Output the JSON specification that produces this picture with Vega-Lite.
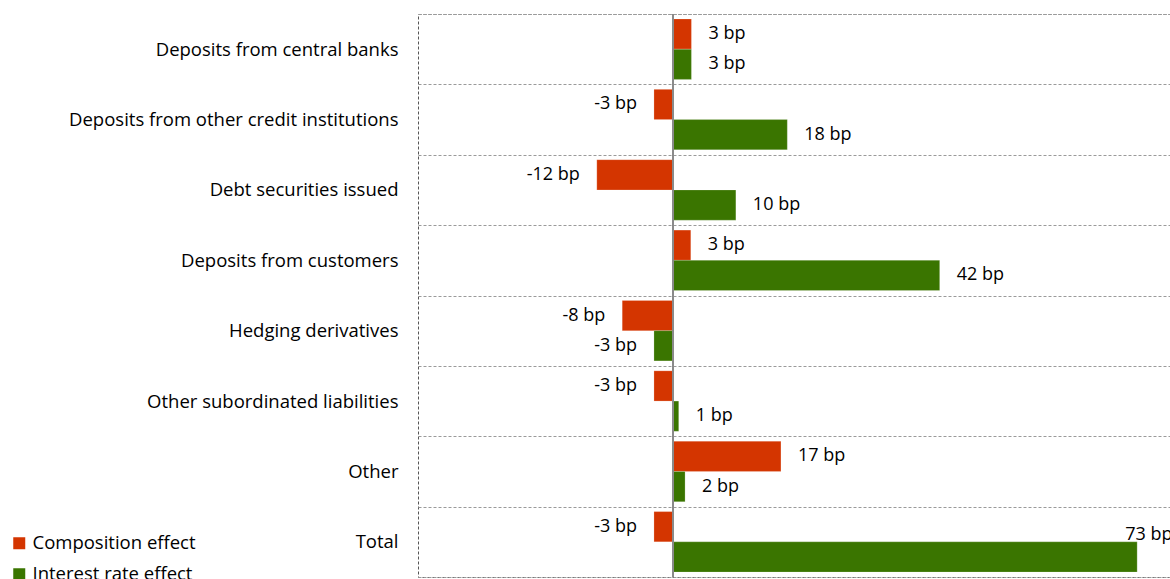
{
  "$schema": "https://vega.github.io/schema/vega-lite/v6.json",
  "autosize": "none",
  "padding": {"left": 418, "top": 14, "right": 0, "bottom": 2},
  "width": 752,
  "height": 563,
  "config": {
    "font": "Open Sans",
    "view": {"stroke": "#555555", "strokeDash": [3, 2], "strokeWidth": 1}
  },
  "data": {
    "values": [
      {"category": "Deposits from central banks", "series": "Composition effect", "value": 2.9, "label": "3 bp"},
      {"category": "Deposits from central banks", "series": "Interest rate effect", "value": 2.9, "label": "3 bp"},
      {"category": "Deposits from other credit institutions", "series": "Composition effect", "value": -3.0, "label": "-3 bp"},
      {"category": "Deposits from other credit institutions", "series": "Interest rate effect", "value": 18.0, "label": "18 bp"},
      {"category": "Debt securities issued", "series": "Composition effect", "value": -12.0, "label": "-12 bp"},
      {"category": "Debt securities issued", "series": "Interest rate effect", "value": 9.9, "label": "10 bp"},
      {"category": "Deposits from customers", "series": "Composition effect", "value": 2.8, "label": "3 bp"},
      {"category": "Deposits from customers", "series": "Interest rate effect", "value": 42.0, "label": "42 bp"},
      {"category": "Hedging derivatives", "series": "Composition effect", "value": -8.0, "label": "-8 bp"},
      {"category": "Hedging derivatives", "series": "Interest rate effect", "value": -3.0, "label": "-3 bp"},
      {"category": "Other subordinated liabilities", "series": "Composition effect", "value": -3.0, "label": "-3 bp"},
      {"category": "Other subordinated liabilities", "series": "Interest rate effect", "value": 0.9, "label": "1 bp"},
      {"category": "Other", "series": "Composition effect", "value": 17.0, "label": "17 bp"},
      {"category": "Other", "series": "Interest rate effect", "value": 1.9, "label": "2 bp"},
      {"category": "Total", "series": "Composition effect", "value": -3.0, "label": "-3 bp"},
      {"category": "Total", "series": "Interest rate effect", "value": 73.1, "label": "73 bp"}
    ]
  },
  "encoding": {
    "y": {
      "field": "category",
      "type": "nominal",
      "sort": null,
      "scale": {"paddingInner": 0, "paddingOuter": 0, "round": false},
      "axis": {
        "title": null,
        "domain": false,
        "ticks": false,
        "tickBand": "extent",
        "grid": true,
        "gridColor": "#9a9a9a",
        "gridDash": [3, 2],
        "gridWidth": 1,
        "labelFontSize": 18.5,
        "labelColor": "#000000",
        "labelPadding": 20,
        "labelLimit": 400
      }
    },
    "yOffset": {"field": "series", "type": "nominal", "scale": {"paddingInner": 0, "paddingOuter": 0.164}},
    "x": {
      "field": "value",
      "type": "quantitative",
      "scale": {"domain": [-40.16, 78.27], "nice": false, "zero": false},
      "axis": null
    }
  },
  "layer": [
    {
      "mark": {"type": "bar", "stroke": "#ffffff", "strokeWidth": 0.5, "strokeOpacity": 0.4},
      "encoding": {
        "color": {
          "field": "series",
          "type": "nominal",
          "scale": {"domain": ["Composition effect", "Interest rate effect"], "range": ["#D43500", "#3A7500"]},
          "legend": {
            "title": null,
            "orient": "none",
            "legendX": -408,
            "legendY": 520,
            "symbolType": "square",
            "symbolSize": 144,
            "symbolStrokeWidth": 0,
            "labelFontSize": 18.5,
            "labelColor": "#000000",
            "labelLimit": 300,
            "rowPadding": 12,
            "labelOffset": 4
          }
        }
      }
    },
    {
      "transform": [{"filter": "datum.value >= 0 && datum.value < 60"}],
      "mark": {"type": "text", "align": "left", "dx": 17, "fontSize": 18, "color": "#000000"},
      "encoding": {"text": {"field": "label"}}
    },
    {
      "transform": [{"filter": "datum.value >= 60"}],
      "mark": {"type": "text", "align": "left", "dx": -12, "dy": -22, "fontSize": 18, "color": "#000000"},
      "encoding": {"text": {"field": "label"}}
    },
    {
      "transform": [{"filter": "datum.value < 0"}],
      "mark": {"type": "text", "align": "right", "dx": -17, "fontSize": 18, "color": "#000000"},
      "encoding": {"text": {"field": "label"}}
    },
    {
      "mark": {"type": "rule", "color": "#8a8a8a", "strokeWidth": 2},
      "encoding": {"x": {"datum": 0}, "y": {"value": 0}, "y2": {"value": 563}, "yOffset": null}
    }
  ]
}
